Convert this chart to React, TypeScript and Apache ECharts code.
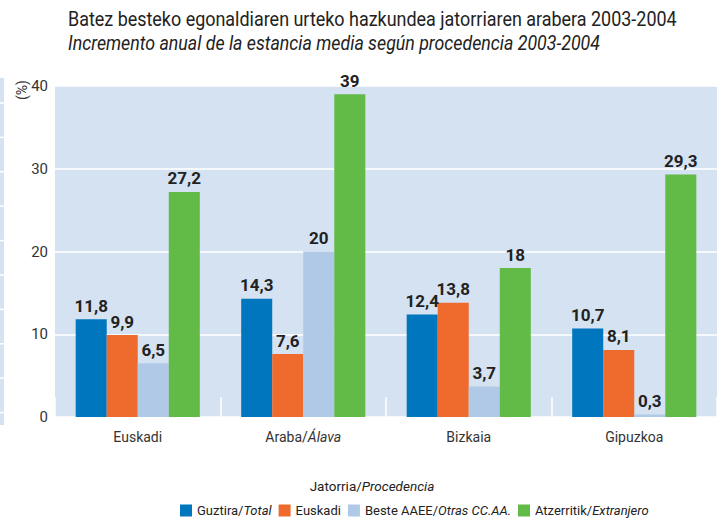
import React, { useEffect, useRef } from "react";
import * as echarts from "echarts";

const categories = ["Euskadi", "Araba/Álava", "Bizkaia", "Gipuzkoa"];
const categoryRich = ["{n|Euskadi}", "{n|Araba/}{i|Álava}", "{n|Bizkaia}", "{n|Gipuzkoa}"];
const seriesNames = ["Guztira/Total", "Euskadi", "Beste AAEE/Otras CC.AA.", "Atzerritik/Extranjero"];
const legendRich: Record<string, string> = {
  "Guztira/Total": "{n|Guztira/}{i|Total}",
  Euskadi: "{n|Euskadi}",
  "Beste AAEE/Otras CC.AA.": "{n|Beste AAEE/}{i|Otras CC.AA.}",
  "Atzerritik/Extranjero": "{n|Atzerritik/}{i|Extranjero}",
};
const totalValues = [11.8, 14.3, 12.4, 10.7];
const euskadiValues = [9.9, 7.6, 13.8, 8.1];
const otherValues = [6.5, 20, 3.7, 0.3];
const foreignValues = [27.2, 39, 18, 29.3];
const colors = ["#0076BF", "#EF6A2D", "#AFC9E7", "#62BA47"];
const yTicks = { min: 0, max: 40, interval: 10 };
const titleLine1 = "Batez besteko egonaldiaren urteko hazkundea jatorriaren arabera 2003-2004";
const titleLine2 = "Incremento anual de la estancia media según procedencia 2003-2004";

const FONT = "Roboto, 'Noto Sans', sans-serif";

function measure(text: string, font: string): number {
  const c = document.createElement("canvas");
  const ctx = c.getContext("2d");
  if (!ctx) return text.length * 9;
  ctx.font = font;
  return ctx.measureText(text).width;
}

export default function App() {
  const ref = useRef<HTMLDivElement>(null);
  useEffect(() => {
    if (!ref.current) return;
    const chart = echarts.init(ref.current, undefined, { renderer: "svg" });
    const allValues = [totalValues, euskadiValues, otherValues, foreignValues];
    const stripLines: any[] = [];
    for (let k = 0; k < 10; k++) {
      const y = 103 + k * 34.4;
      stripLines.push({
        type: "line",
        shape: { x1: 0, y1: y, x2: 4, y2: y },
        style: { stroke: "#ffffff", lineWidth: 1.5 },
        z: 2,
      });
    }
    const w1 = measure(titleLine1, "21px Roboto");
    const w2 = measure(titleLine2, "italic 21px Roboto");
    const sx1 = 609 / w1;
    const sx2 = 532 / w2;
    chart.setOption({
      animation: false,
      textStyle: { fontFamily: FONT },
      grid: {
        left: 55,
        right: 0,
        top: 86,
        bottom: 105,
        show: true,
        backgroundColor: "#D5E2F1",
        borderWidth: 0,
      },
      legend: {
        data: seriesNames,
        left: 175,
        top: 499,
        itemWidth: 12,
        itemHeight: 12,
        itemGap: 7,
        icon: "rect",
        formatter: (name: string) => legendRich[name],
        textStyle: {
          fontFamily: FONT,
          fontSize: 13,
          color: "#222",
          rich: {
            n: { fontFamily: FONT, fontSize: 13, color: "#222" },
            i: { fontFamily: FONT, fontSize: 13, color: "#222", fontStyle: "italic" },
          },
        },
      },
      xAxis: {
        type: "category",
        data: categories,
        axisLine: { show: false },
        axisTick: {
          show: true,
          inside: true,
          length: 20,
          lineStyle: { color: "#ffffff", width: 1.5 },
        },
        axisLabel: {
          margin: 13,
          formatter: (_v: string, i: number) => categoryRich[i],
          rich: {
            n: { fontFamily: FONT, fontSize: 14, color: "#333" },
            i: { fontFamily: FONT, fontSize: 14, color: "#333", fontStyle: "italic" },
          },
        },
      },
      yAxis: {
        type: "value",
        min: yTicks.min,
        max: yTicks.max,
        interval: yTicks.interval,
        axisLine: { show: false },
        axisTick: { show: false },
        axisLabel: { fontFamily: FONT, fontSize: 15, color: "#333", margin: 7 },
        splitLine: { show: true, lineStyle: { color: "#ffffff", width: 1.5 } },
      },
      series: seriesNames.map((name, si) => ({
        name,
        type: "bar",
        data: allValues[si],
        barGap: "0%",
        barCategoryGap: "25%",
        itemStyle: { color: colors[si] },
        label: {
          show: true,
          position: "top",
          distance: 5,
          fontFamily: FONT,
          fontSize: 17,
          fontWeight: "bold",
          color: "#222",
          formatter: (p: any) => String(p.value).replace(".", ","),
        },
      })),
      graphic: [
        {
          type: "text",
          x: 68,
          y: 19,
          scaleX: sx1,
          style: {
            text: titleLine1,
            fontFamily: FONT,
            fontSize: 21,
            fill: "#222",
            align: "left",
            verticalAlign: "middle",
          },
        },
        {
          type: "text",
          x: 68,
          y: 43,
          scaleX: sx2,
          style: {
            text: titleLine2,
            fontFamily: FONT,
            fontSize: 21,
            fontStyle: "italic",
            fill: "#222",
            align: "left",
            verticalAlign: "middle",
          },
        },
        {
          type: "text",
          x: 22,
          y: 90,
          rotation: Math.PI / 2,
          style: {
            text: "(%)",
            fontFamily: FONT,
            fontSize: 14,
            fill: "#333",
            align: "center",
            verticalAlign: "middle",
          },
        },
        {
          type: "text",
          x: 372,
          y: 486,
          style: {
            text: "{n|Jatorria/}{i|Procedencia}",
            align: "center",
            verticalAlign: "middle",
            rich: {
              n: { fontFamily: FONT, fontSize: 13.5, fill: "#222" },
              i: { fontFamily: FONT, fontSize: 13.5, fill: "#222", fontStyle: "italic" },
            },
          },
        },
        {
          type: "rect",
          shape: { x: 0, y: 78, width: 4, height: 347 },
          style: { fill: "#D5E2F1" },
          z: 1,
        },
        ...stripLines,
      ],
    });
    return () => chart.dispose();
  }, []);
  return (
    <div
      ref={ref}
      style={{ position: "fixed", left: 0, top: 0, width: 717, height: 522, background: "#fff" }}
    />
  );
}
